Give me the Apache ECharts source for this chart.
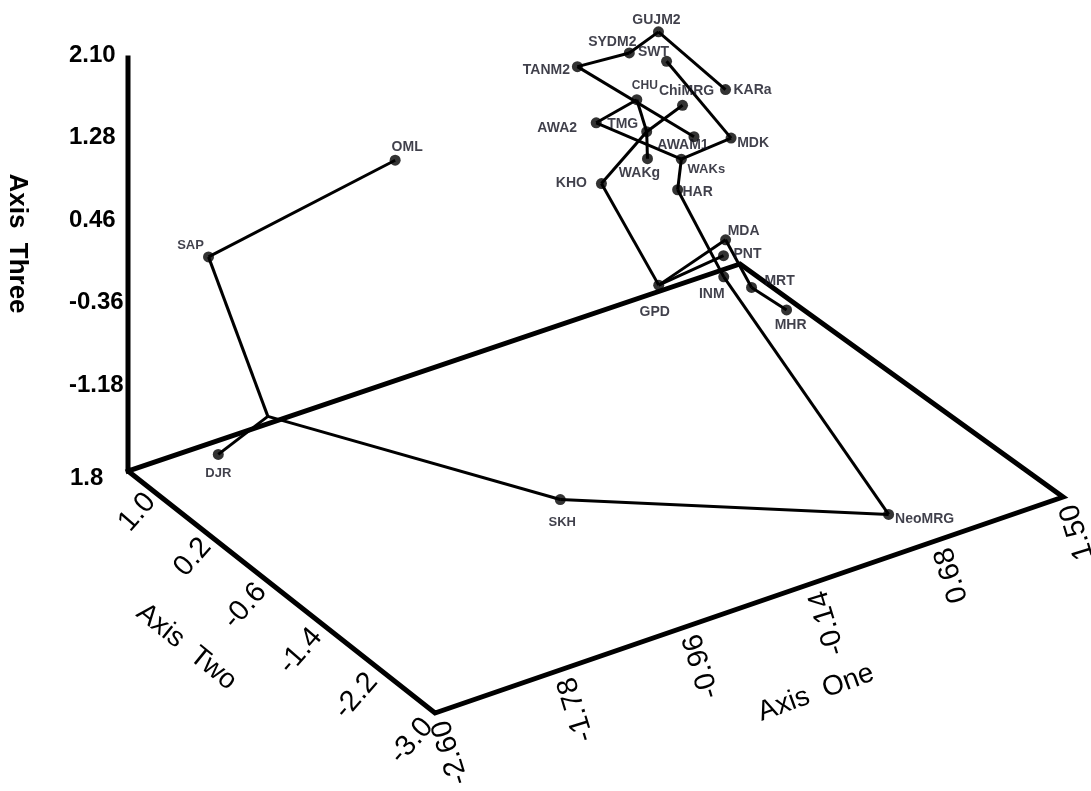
<!DOCTYPE html>
<html>
<head>
<meta charset="utf-8">
<script src="https://cdn.jsdelivr.net/npm/echarts@6/dist/echarts.min.js"></script>
<style>
  html, body { margin: 0; padding: 0; background: #ffffff; }
  #chart { width: 1091px; height: 791px; }
</style>
</head>
<body>
<div id="chart"></div>
<script>
// ---- Axis ranges and tick labels ----
const axisOneRange   = [-2.60, 1.50];
const axisTwoRange   = [-3.0, 1.8];
const axisThreeRange = [-2.00, 2.10];
const axisOneTicks   = [-2.60, -1.78, -0.96, -0.14, 0.68, 1.50];
const axisTwoTicks   = [1.8, 1.0, 0.2, -0.6, -1.4, -2.2, -3.0];
const axisThreeTicks = [2.10, 1.28, 0.46, -0.36, -1.18];

// ---- Populations: coordinates on axis one, two and three ----
const popNames     = ['GUJM2', 'SYDM2', 'SWT', 'TANM2', 'KARa', 'CHU', 'ChiMRG', 'AWA2', 'TMG', 'AWAM1',
                      'MDK', 'WAKg', 'WAKs', 'KHO', 'HAR', 'MDA', 'PNT', 'INM', 'MRT', 'MHR',
                      'GPD', 'OML', 'SAP', 'DJR', 'SKH', 'NeoMRG'];
const popAxisOne   = [0.42, 0.12, 0.58, -0.33, 1.08, 0.17, 0.58, -0.31, 0.13, 0.55,
                      1.01, 0.03, 0.36, -0.38, 0.23, 0.76, 0.64, 0.43, 0.72, 0.74,
                      -0.21, -1.02, -2.37, -2.51, -1.17, 0.57];
const popAxisTwo   = [0.60, 0.36, 0.84, 0.12, 1.08, 0.36, 0.60, -0.12, 0.12, 0.36,
                      0.84, -0.12, 0.12, -0.36, -0.12, 0.36, 0.12, -0.36, -0.12, -0.60,
                      -0.84, 1.32, 1.08, 0.60, -1.56, -2.52];
const popAxisThree = [1.43, 1.49, 0.94, 1.70, 0.29, 1.00, 0.62, 1.25, 0.82, 0.44,
                      -0.04, 0.72, 0.43, 0.80, 0.31, -0.69, -0.67, -0.54, -0.91, -0.91,
                      -0.06, 0.53, 0.37, -1.28, -1.34, -1.92];

// Unlabelled branch point of the network
const branchNames     = ['fork'];
const branchAxisOne   = [-2.18];
const branchAxisTwo   = [0.60];
const branchAxisThree = [-1.07];

// Network connections
const links = [
  ['OML', 'SAP'], ['SAP', 'fork'], ['fork', 'DJR'], ['fork', 'SKH'], ['SKH', 'NeoMRG'],
  ['NeoMRG', 'INM'], ['INM', 'HAR'], ['HAR', 'WAKs'], ['WAKs', 'MDK'], ['WAKs', 'AWA2'],
  ['AWA2', 'CHU'], ['CHU', 'TMG'], ['TMG', 'WAKg'], ['TMG', 'ChiMRG'], ['TMG', 'KHO'],
  ['KHO', 'GPD'], ['GPD', 'MDA'], ['GPD', 'PNT'], ['MDA', 'MRT'], ['MRT', 'MHR'],
  ['MDK', 'SWT'], ['TANM2', 'SYDM2'], ['SYDM2', 'GUJM2'], ['GUJM2', 'KARa'], ['TANM2', 'AWAM1']
];

// ---- Layout of the box (screen pixels) ----
const box = {
  backLeft:  [128, 471],
  backRight: [740, 264],
  frontLeft: [435, 713],
  frontRight:[1063, 497],
  top:       [128, 58]
};

// Name label placement relative to each dot
const labelOffset = {
  GUJM2: [-2, -12], SYDM2: [-17, -11], SWT: [-13, -9], TANM2: [-31, 3], KARa: [27, 1],
  CHU: [8, -14], ChiMRG: [4, -14], AWA2: [-39, 5], TMG: [-24, -8], AWAM1: [-11, 8],
  MDK: [22, 5], WAKg: [-8, 14], WAKs: [25, 10], KHO: [-30, 0], HAR: [20, 2],
  MDA: [18, -9], PNT: [24, -2], INM: [-12, 17], MRT: [28, -6], MHR: [4, 15],
  GPD: [-4, 27], OML: [12, -13], SAP: [-18, -11], DJR: [0, 19], SKH: [2, 23], NeoMRG: [36, 5]
};
const labelSize = { CHU: 12, SAP: 13, DJR: 13, SKH: 13, WAKs: 13, NeoMRG: 14 };

const FONT = '"Liberation Sans", Arial, Helvetica, sans-serif';
const INK = '#000000';
const LABEL_INK = '#10101e';

// Oblique view of the 3-D box: bilinear floor plus vertical rise
function project(one, two, three) {
  const s = (one - axisOneRange[0]) / (axisOneRange[1] - axisOneRange[0]);
  const t = (axisTwoRange[1] - two) / (axisTwoRange[1] - axisTwoRange[0]);
  const h = (three - axisThreeRange[0]) / (axisThreeRange[1] - axisThreeRange[0]);
  const bl = box.backLeft, br = box.backRight, fl = box.frontLeft, fr = box.frontRight;
  const x = (1 - s) * (1 - t) * bl[0] + s * (1 - t) * br[0] + (1 - s) * t * fl[0] + s * t * fr[0];
  const yFloor = (1 - s) * (1 - t) * bl[1] + s * (1 - t) * br[1] + (1 - s) * t * fl[1] + s * t * fr[1];
  const rise = bl[1] - box.top[1];
  return [x, yFloor - h * rise];
}

// Points of every node, keyed by name
const pos = {};
popNames.forEach((n, i) => { pos[n] = project(popAxisOne[i], popAxisTwo[i], popAxisThree[i]); });
branchNames.forEach((n, i) => { pos[n] = project(branchAxisOne[i], branchAxisTwo[i], branchAxisThree[i]); });

// Frame: vertical axis and the floor outline
const lo1 = axisOneRange[0], hi1 = axisOneRange[1];
const lo2 = axisTwoRange[0], hi2 = axisTwoRange[1];
const lo3 = axisThreeRange[0], hi3 = axisThreeRange[1];
const framePath = [
  project(lo1, hi2, hi3),
  project(lo1, hi2, lo3),
  project(lo1, lo2, lo3),
  project(hi1, lo2, lo3),
  project(hi1, hi2, lo3),
  project(lo1, hi2, lo3)
];

// ---- Text items (tick labels and titles) ----
const texts = [];
function fmt2(v) { return v.toFixed(2); }

// Axis three ticks: left aligned column beside the vertical axis
axisThreeTicks.forEach(v => {
  const p = project(lo1, hi2, v);
  texts.push({ p: [p[0] - 59, p[1] - 3], text: fmt2(v), rot: 0, align: 'left',
               font: 'bold 24px ' + FONT });
});

// Axis two ticks along the left floor edge
axisTwoTicks.forEach((v, i) => {
  const p = project(lo1, v, lo3);
  if (i === 0) {
    texts.push({ p: [p[0] - 58, p[1] + 7], text: v.toFixed(1), rot: 0, align: 'left',
                 font: 'bold 24px ' + FONT });
    return;
  }
  const t = (hi2 - v) / (hi2 - lo2);
  const dx = -33 + 26 * t, dy = -19 + 28 * t;
  texts.push({ p: [p[0] + dx, p[1] + dy], text: v.toFixed(1), rot: 49, align: 'right',
               font: '29px ' + FONT });
});

// Axis one ticks along the front floor edge
axisOneTicks.forEach(v => {
  const p = project(v, lo2, lo3);
  texts.push({ p: [p[0] + 6, p[1] + 8], text: fmt2(v), rot: 107, align: 'right',
               font: '29px ' + FONT });
});

// Axis titles
(function () {
  const v0 = project(lo1, hi2, lo3), v1 = project(lo1, hi2, hi3);
  texts.push({ p: [(v0[0] + v1[0]) / 2 - 111, (v0[1] + v1[1]) / 2 - 21], text: 'Axis  Three',
               rot: -90, align: 'center', font: 'bold 26px ' + FONT });
  const a0 = project(lo1, hi2, lo3), a1 = project(lo1, lo2, lo3);
  texts.push({ p: [(a0[0] + a1[0]) / 2 - 95, (a0[1] + a1[1]) / 2 + 55], text: 'Axis  Two',
               rot: -39, align: 'center', font: '28px ' + FONT });
  const b0 = project(lo1, lo2, lo3), b1 = project(hi1, lo2, lo3);
  texts.push({ p: [(b0[0] + b1[0]) / 2 + 67, (b0[1] + b1[1]) / 2 + 88], text: 'Axis  One',
               rot: 20, align: 'center', font: '28px ' + FONT });
})();

const chart = echarts.init(document.getElementById('chart'), null, { renderer: 'canvas' });

chart.setOption({
  animation: false,
  backgroundColor: '#ffffff',
  grid: { left: 0, top: 0, width: 1091, height: 791, containLabel: false },
  xAxis: { type: 'value', min: 0, max: 1091, show: false },
  yAxis: { type: 'value', min: 0, max: 791, inverse: true, show: false },
  series: [
    {
      name: 'frame',
      type: 'lines',
      coordinateSystem: 'cartesian2d',
      polyline: true,
      silent: true,
      z: 1,
      lineStyle: { color: INK, width: 5, opacity: 1, join: 'miter', cap: 'square' },
      data: [{ coords: framePath }]
    },
    {
      name: 'network',
      type: 'lines',
      coordinateSystem: 'cartesian2d',
      silent: true,
      z: 2,
      lineStyle: { color: INK, width: 3, opacity: 1 },
      data: links.map(l => ({ coords: [pos[l[0]], pos[l[1]]] }))
    },
    {
      name: 'populations',
      type: 'scatter',
      silent: true,
      z: 3,
      symbol: 'circle',
      symbolSize: 11,
      itemStyle: { color: INK },
      data: popNames.map(n => ({
        name: n,
        value: pos[n],
        label: {
          show: true,
          position: 'inside',
          offset: labelOffset[n] || [0, 0],
          formatter: '{b}',
          color: LABEL_INK,
          fontFamily: FONT,
          fontWeight: 'bold',
          fontSize: labelSize[n] || 14
        }
      }))
    },
    {
      name: 'texts',
      type: 'custom',
      silent: true,
      z: 4,
      data: texts.map(t => t.p),
      renderItem: function (params, api) {
        const it = texts[params.dataIndex];
        const c = api.coord([api.value(0), api.value(1)]);
        return {
          type: 'text',
          x: c[0],
          y: c[1],
          rotation: it.rot * Math.PI / 180,
          style: {
            text: it.text,
            font: it.font,
            fill: INK,
            align: it.align,
            verticalAlign: 'middle'
          }
        };
      }
    }
  ]
});
</script>
</body>
</html>
